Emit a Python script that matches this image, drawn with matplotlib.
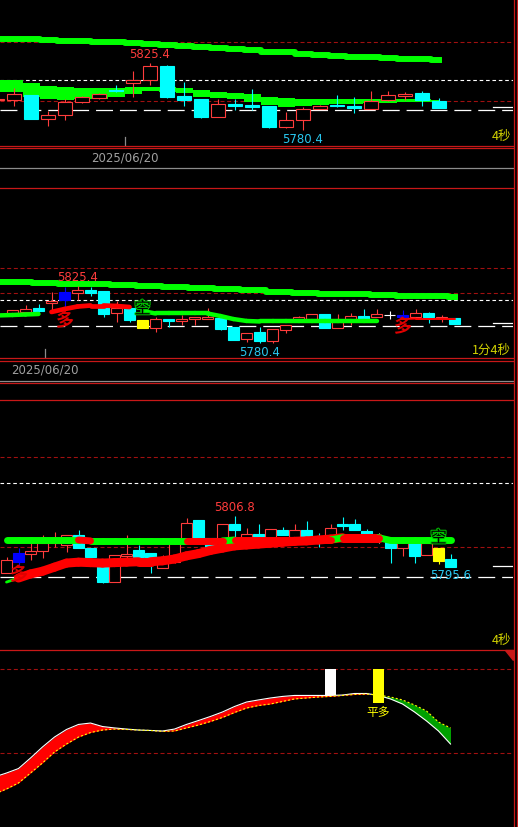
import numpy as np
import matplotlib
matplotlib.use("Agg")
import matplotlib.pyplot as plt
from matplotlib.lines import Line2D
from matplotlib.patches import Polygon
from matplotlib.collections import LineCollection
import matplotlib.patheffects as pe

plt.rcParams['lines.scale_dashes'] = False
CJK = ['Noto Sans CJK SC', 'DejaVu Sans']

# ---------------- data ----------------
date_label = "2025/06/20"
last_price = 5795.8

# panel 1 (4-second chart)
p1_open = [5800.6, 5800.6, 5803.9, 5787.8, 5790.5, 5799.2, 5801.9, 5807.3, 5812.0, 5814.0, 5823.4, 5803.2, 5801.2, 5789.1,
           5797.9, 5797.2, 5796.5, 5782.4, 5787.1, 5794.5, 5797.2, 5796.5, 5794.5, 5800.6, 5803.2, 5805.3, 5799.9]
p1_high = [5801.2, 5808.6, 5803.9, 5793.2, 5801.2, 5803.2, 5805.3, 5810.6, 5820.0, 5825.4, 5824.1, 5812.6, 5801.2, 5801.2,
           5801.2, 5807.9, 5796.5, 5792.5, 5795.8, 5797.2, 5803.9, 5802.6, 5806.6, 5806.6, 5805.9, 5806.6, 5801.9]
p1_low = [5800.6, 5796.5, 5787.8, 5783.1, 5787.1, 5798.6, 5801.2, 5806.0, 5802.6, 5810.6, 5801.9, 5796.5, 5788.5, 5789.1,
          5793.8, 5793.8, 5781.8, 5781.8, 5780.4, 5794.5, 5795.8, 5791.8, 5794.5, 5799.9, 5800.6, 5796.5, 5795.2]
p1_close = [5801.2, 5804.6, 5787.8, 5790.5, 5799.2, 5802.6, 5804.6, 5806.6, 5814.0, 5823.4, 5802.6, 5800.6, 5789.1, 5797.9,
            5796.5, 5795.8, 5782.4, 5787.1, 5794.5, 5796.5, 5796.5, 5795.2, 5799.9, 5803.9, 5804.6, 5800.6, 5795.2]
p1_ma_long = [5841.5, 5841.5, 5841.2, 5840.8, 5840.5, 5840.2, 5839.8, 5839.5, 5838.8, 5838.2, 5837.5, 5836.8, 5836.1, 5835.5,
              5834.8, 5834.1, 5833.1, 5832.5, 5831.4, 5830.8, 5830.1, 5829.4, 5829.1, 5828.8, 5828.4, 5828.1, 5827.4]
p1_band_top = [5814.0, 5814.0, 5812.0, 5809.9, 5809.3, 5808.6, 5808.6, 5808.6, 5809.3, 5809.3, 5809.3, 5808.6, 5807.3, 5805.9,
               5805.3, 5804.6, 5802.6, 5801.9, 5801.2, 5801.2, 5801.2, 5801.2, 5801.2, 5801.2, 5801.2, 5801.2, 5800.6]
p1_band_bot = [5805.9, 5805.9, 5802.6, 5801.2, 5800.6, 5801.2, 5801.2, 5802.6, 5804.6, 5806.6, 5805.9, 5805.3, 5802.6, 5801.9,
               5801.2, 5799.2, 5797.2, 5795.8, 5796.5, 5797.2, 5797.9, 5797.9, 5798.6, 5798.6, 5799.2, 5799.2, 5799.2]
p1_levels_red = [5839.5, 5799.9]
p1_level_fine = 5814.0
p1_level_long = 5793.8
p1_hi_idx, p1_lo_idx = 8, 17

# panel 2 (1 min 4 s chart)
p2_open = [5803.8, 5804.9, 5808.3, 5812.2, 5820.9, 5819.6, 5822.2, 5821.5, 5803.8, 5808.3, 5798.6, 5792.0, 5799.6, 5798.0,
           5799.1, 5799.6, 5799.9, 5793.3, 5783.3, 5789.1, 5782.0, 5790.7, 5798.6, 5799.6, 5803.3, 5792.5, 5799.1, 5802.0,
           5800.7, 5802.8, 5802.5, 5800.7, 5803.8, 5800.1, 5799.9]
p2_high = [5806.5, 5810.4, 5811.2, 5820.7, 5824.6, 5825.4, 5824.9, 5821.5, 5813.6, 5808.3, 5798.6, 5801.2, 5799.6, 5802.5,
           5801.2, 5808.3, 5799.9, 5793.3, 5788.1, 5793.3, 5791.2, 5794.6, 5802.0, 5803.3, 5803.3, 5803.3, 5803.8, 5807.2,
           5807.2, 5805.9, 5806.5, 5807.2, 5805.1, 5802.5, 5799.9]
p2_low = [5803.8, 5804.9, 5804.9, 5804.1, 5806.5, 5814.3, 5817.5, 5801.2, 5797.2, 5797.2, 5792.0, 5789.3, 5792.8, 5794.6,
          5794.6, 5799.1, 5790.7, 5782.8, 5781.5, 5780.4, 5780.6, 5788.5, 5798.6, 5799.6, 5792.5, 5792.5, 5794.6, 5799.3,
          5800.7, 5799.3, 5800.7, 5800.7, 5796.4, 5797.2, 5795.4]
p2_close = [5806.5, 5807.2, 5805.9, 5813.6, 5814.3, 5822.2, 5820.1, 5803.3, 5808.3, 5798.6, 5792.5, 5799.1, 5798.0, 5799.6,
            5801.2, 5801.2, 5791.5, 5782.8, 5788.1, 5782.0, 5791.2, 5794.6, 5800.9, 5803.3, 5792.5, 5797.2, 5802.0, 5799.3,
            5803.3, 5802.8, 5800.7, 5803.8, 5800.7, 5801.2, 5795.4]
p2_special_idx = [4, 10, 29, 30]
p2_special_col = ['#0000ff', '#ffff00', '#ffffff', '#0000ff']
p2_ma_long = [5828.3, 5828.3, 5828.3, 5827.8, 5827.8, 5827.3, 5827.3, 5826.8, 5826.8, 5826.3, 5826.3, 5825.6, 5825.6, 5824.8,
              5824.8, 5824.0, 5824.0, 5823.0, 5823.0, 5822.0, 5822.0, 5821.0, 5821.0, 5819.9, 5819.9, 5819.4, 5819.4, 5818.8,
              5818.8, 5818.3, 5818.3, 5817.7, 5817.7, 5817.2, 5817.2, 5816.7]
p2_ma_short = [5802.2, 5802.5, 5802.9, 5803.3, 5804.9, 5807.2, 5809.2, 5810.0, 5810.0, 5809.6, 5808.8, 5805.7, 5803.7, 5803.7,
               5803.7, 5803.7, 5803.7, 5801.7, 5799.3, 5797.8, 5797.4, 5797.4, 5797.4, 5797.4, 5797.4, 5797.4, 5797.4, 5797.4,
               5797.4, 5797.4, 5798.9, 5799.3, 5799.7, 5799.7, 5799.7, 5799.7]
p2_ma_short_seg = "ggg" + "n" + "rrrrrr" + "n" + "g" * 18 + "nn" + "RRRR"
p2_levels_red = [5839.5, 5819.8]
p2_level_fine = 5814.1
p2_level_long = 5793.8
p2_hi_idx, p2_lo_idx = 5, 19
p2_duo_idx, p2_duo_val = [4, 30], [5797.8, 5793.0]
p2_kong_idx, p2_kong_val = [10], [5807.2]

# panel 3 (4-second chart, zoomed)
p3_open = [5794.1, 5798.6, 5798.3, 5799.1, 5800.8, 5800.4, 5802.6, 5799.8, 5797.1, 5792.3, 5798.0, 5799.3, 5798.6, 5795.3,
           5796.6, 5801.7, 5805.9, 5801.9, 5801.7, 5805.0, 5801.9, 5802.8, 5801.9, 5803.7, 5802.2, 5803.7, 5801.9, 5801.9,
           5805.0, 5805.0, 5803.5, 5801.9, 5801.1, 5799.8, 5800.8, 5798.2, 5799.8, 5797.3]
p3_high = [5797.8, 5799.8, 5800.9, 5802.6, 5803.2, 5802.6, 5803.7, 5799.8, 5797.2, 5798.2, 5802.6, 5800.4, 5798.6, 5798.2,
           5801.9, 5806.3, 5805.9, 5801.9, 5805.0, 5806.8, 5804.1, 5805.0, 5803.9, 5804.4, 5805.0, 5805.7, 5803.0, 5805.0,
           5806.6, 5806.1, 5803.9, 5803.0, 5801.1, 5801.1, 5800.8, 5800.8, 5799.8, 5798.4]
p3_low = [5794.1, 5796.0, 5797.1, 5797.5, 5799.9, 5798.9, 5799.8, 5797.7, 5791.9, 5792.3, 5797.1, 5797.8, 5794.1, 5795.3,
          5796.4, 5801.7, 5801.7, 5799.7, 5801.7, 5801.9, 5801.9, 5801.9, 5801.9, 5802.6, 5802.2, 5801.9, 5799.9, 5801.9,
          5803.7, 5803.6, 5802.5, 5800.8, 5796.4, 5798.0, 5796.5, 5798.2, 5796.1, 5795.6]
p3_close = [5797.1, 5796.7, 5799.0, 5800.9, 5801.9, 5802.6, 5799.8, 5797.7, 5792.3, 5798.2, 5798.4, 5797.8, 5796.2, 5797.1,
            5800.8, 5805.3, 5801.7, 5799.7, 5805.0, 5803.6, 5802.8, 5801.9, 5803.9, 5802.6, 5803.7, 5801.9, 5801.1, 5804.1,
            5804.6, 5803.6, 5802.5, 5801.9, 5799.8, 5801.1, 5798.0, 5800.8, 5796.9, 5795.6]
p3_special_idx = [1, 31, 36]
p3_special_col = ['#0000ff', '#ffffff', '#ffff00']
p3_ma_up = [5801.5] * 7 + [5801.3] * 12 + [5801.5] * 9 + [5802.0] * 4 + [5801.4] * 6
p3_ma_up_seg = "gggggg" + "r" + "g" * 8 + "rrr" + "g" + "r" * 8 + "g" + "rrr" + "g" * 6
p3_ma_dn = [5792.2, 5793.1, 5794.0, 5794.6, 5795.5, 5796.4, 5796.6, 5796.5, 5796.4, 5796.5, 5796.6, 5796.7, 5796.7, 5796.9,
            5797.3, 5798.0, 5798.5, 5799.2, 5799.7, 5800.2, 5800.4, 5800.6, 5800.8, 5801.0, 5801.2, 5801.3, 5801.5, 5801.7,
            5802.0, 5802.0, 5802.0, 5802.0]
p3_ma_dn_seg = "G" + "r" * 30
p3_levels_red = [5819.8, 5800.0]
p3_level_fine = 5814.1
p3_level_long = 5793.3
p3_hi_idx, p3_lo_idx = 19, 37
p3_duo_idx, p3_duo_val = [1], [5793.8]
p3_kong_idx, p3_kong_val = [36], [5801.9]

# panel 4 (indicator band)
p4_fast = [2.9, 5.7, 8.9, 16.4, 24.3, 31.4, 36.8, 40.4, 41.4, 38.9, 37.9, 37.1, 36.4, 36.1, 35.7, 37.1, 40.4, 43.2, 46.1,
           49.3, 53.2, 56.4, 57.9, 59.3, 60.4, 61.1, 61.1, 61.1, 61.1, 61.4, 62.5, 62.5, 61.1, 58.6, 55.0, 49.3, 42.9, 35.7, 26.4]
p4_slow = [-9.3, -5.7, -1.4, 5.7, 12.9, 20.7, 26.4, 31.4, 34.6, 36.4, 37.1, 36.8, 36.4, 36.1, 35.4, 35.7, 37.9, 40.0, 42.5,
           45.4, 48.9, 52.1, 53.9, 55.0, 56.8, 58.6, 59.3, 60.0, 60.4, 61.1, 61.8, 62.1, 61.4, 60.0, 57.9, 54.3, 50.0, 42.1, 37.9]
p4_levels = [80, 20]
p4_bar_idx = [27, 31]
p4_bar_low = [61.4, 55.7]
p4_bar_col = ['#ffffff', '#ffff00']
p4_text = "平多"
p4_text_val = 48.6

# ---------------- styling ----------------
RED = '#ff3c3c'
CYAN = '#00ffff'
GREEN = '#00ff00'
BORDER = '#c81818'
DASHRED = '#a01010'
GREY = '#8c8c8c'
LABEL_CYAN = '#28c8f0'
YEL = '#d2d200'

W, H = 518, 827
PR = 513
fig = plt.figure(figsize=(W / 100, H / 100), dpi=100, facecolor='black')


def fx(px):
    return px / W


def fy(px):
    return 1 - px / H


def add_ax(top, bottom):
    ax = fig.add_axes([0, fy(bottom), fx(PR), (bottom - top) / H])
    ax.set_facecolor('black')
    for s in ax.spines.values():
        s.set_visible(False)
    ax.set_xticks([])
    ax.set_yticks([])
    return ax


def fig_hline(y, color, lw=0.9):
    fig.add_artist(Line2D([0, fx(PR)], [fy(y), fy(y)], color=color, lw=lw, transform=fig.transFigure))


def fig_vline(x, color, lw=0.9):
    fig.add_artist(Line2D([fx(x), fx(x)], [0, 1], color=color, lw=lw, transform=fig.transFigure))


def levels(ax, reds, fine, long_):
    for v in reds:
        ax.axhline(v, color=DASHRED, lw=0.8, dashes=(2.9, 1.9), zorder=1)
    ax.axhline(fine, color='white', lw=0.8, dashes=(2.6, 2.0), zorder=1)
    ax.axhline(long_, color='white', lw=0.9, dashes=(12.2, 5.0), zorder=1)
    ax.axhline(last_price, xmin=493 / PR, xmax=1, color='white', lw=0.9, zorder=2)


def candles(ax, x, o, h, l, c, width, sp_idx=(), sp_col=()):
    o, h, l, c = map(np.asarray, (o, h, l, c))
    up = c >= o
    col = [RED if u else CYAN for u in up]
    hollow = list(up)
    for i, cc in zip(sp_idx, sp_col):
        col[i] = cc
        hollow[i] = False
    ax.vlines(x, l, h, colors=col, lw=0.8, zorder=3)
    face = ['black' if hw else cc for hw, cc in zip(hollow, col)]
    ax.bar(x, np.abs(c - o), width, bottom=np.minimum(o, c), color=face, edgecolor=col,
           linewidth=0.8, zorder=4)


def seg_lines(ax, x, y, seg, cmap, wmap, z):
    pts = np.column_stack([x, y])
    for key in set(seg):
        if key == 'n':
            continue
        segs = [pts[i:i + 2] for i, s in enumerate(seg) if s == key]
        ax.add_collection(LineCollection(segs, colors=cmap[key], linewidths=wmap[key],
                                         capstyle='round', zorder=z))


def mark_hi_lo(ax, hi_x, hi_v, lo_x, lo_v):
    ax.annotate(f"{hi_v:.1f}", (hi_x, hi_v), xytext=(0, 1.5), textcoords='offset points',
                ha='center', va='bottom', color=RED, fontsize=8.5, zorder=6)
    ax.annotate(f"{lo_v:.1f}", (lo_x, lo_v), xytext=(0, -2), textcoords='offset points',
                ha='center', va='top', color=LABEL_CYAN, fontsize=8.5, zorder=6)


def signals(ax, duo_x, duo_v, kong_x, kong_v):
    for xx, vv in zip(duo_x, duo_v):
        ax.text(xx, vv, "多", color='#e00000', fontsize=13, ha='center', va='center', family=CJK,
                style='italic', fontweight='bold', zorder=7)
    for xx, vv in zip(kong_x, kong_v):
        ax.text(xx, vv, "空", color='black', fontsize=12, ha='center', va='center', family=CJK, zorder=7,
                path_effects=[pe.withStroke(linewidth=1.4, foreground='#00c800')])


# ---------------- panel 1 ----------------
ax1 = add_ax(0, 145.5)
x1 = np.arange(-1, len(p1_open) - 1)
ax1.set_xlim(-14 / 17, (PR - 14) / 17)
ax1.set_ylim(5769.99, 5867.71)
levels(ax1, p1_levels_red, p1_level_fine, p1_level_long)
ax1.plot(x1, p1_ma_long, color=GREEN, lw=4.3, drawstyle='steps-mid', zorder=2)
ax1.fill_between(x1, p1_band_bot, p1_band_top, step='mid', color=GREEN, lw=0, zorder=2)
candles(ax1, x1, p1_open, p1_high, p1_low, p1_close, 0.88)
mark_hi_lo(ax1, x1[p1_hi_idx + 1], p1_high[p1_hi_idx + 1], x1[p1_lo_idx + 1], p1_low[p1_lo_idx + 1])
ax1.axvline(6.5, ymin=0, ymax=9 / 145.5, color=GREY, lw=0.9)
ax1.annotate(date_label, (6.5, 0), xycoords=('data', 'axes fraction'), xytext=(0, -9),
             textcoords='offset points', ha='center', va='center', color='#a0a0a0', fontsize=8.5,
             annotation_clip=False)
ax1.text(511 / PR, 0.065, "4秒", transform=ax1.transAxes, ha='right', va='center', color=YEL,
         fontsize=9, family=CJK)

# ---------------- panel 2 ----------------
ax2 = add_ax(170.5, 358)
x2 = np.arange(len(p2_open))
xm2 = np.arange(-1, len(p2_ma_long) - 1)
ax2.set_xlim(-12.5 / 13, (PR - 12.5) / 13)
ax2.set_ylim(5768.56, 5916.59)
levels(ax2, p2_levels_red, p2_level_fine, p2_level_long)
ax2.plot(xm2, p2_ma_long, color=GREEN, lw=4.3, drawstyle='steps-mid', zorder=2)
candles(ax2, x2, p2_open, p2_high, p2_low, p2_close, 0.85, p2_special_idx, p2_special_col)
seg_lines(ax2, xm2, p2_ma_short, p2_ma_short_seg,
          {'g': GREEN, 'r': '#ff0000', 'R': '#ff0000'}, {'g': 3.2, 'r': 3.4, 'R': 1.4}, 5)
mark_hi_lo(ax2, p2_hi_idx, p2_high[p2_hi_idx], p2_lo_idx, p2_low[p2_lo_idx])
signals(ax2, p2_duo_idx, p2_duo_val, p2_kong_idx, p2_kong_val)
ax2.axvline(2.5, ymin=0, ymax=9 / 187.5, color=GREY, lw=0.9)
ax2.annotate(date_label, (2.5, 0), xycoords=('data', 'axes fraction'), xytext=(0, -9),
             textcoords='offset points', ha='center', va='center', color='#a0a0a0', fontsize=8.5,
             annotation_clip=False)
ax2.text(511 / PR, 0.043, "1分4秒", transform=ax2.transAxes, ha='right', va='center', color=YEL,
         fontsize=9, family=CJK)

# ---------------- panel 3 ----------------
ax3 = add_ax(383, 650)
x3 = np.arange(len(p3_open))
ax3.set_xlim(-6.5 / 12, (PR - 6.5) / 12)
ax3.set_ylim(5777.20, 5836.18)
levels(ax3, p3_levels_red, p3_level_fine, p3_level_long)
candles(ax3, x3, p3_open, p3_high, p3_low, p3_close, 0.88, p3_special_idx, p3_special_col)
seg_lines(ax3, np.arange(len(p3_ma_dn)), p3_ma_dn, p3_ma_dn_seg,
          {'G': GREEN, 'r': '#ff0000'}, {'G': 2.0, 'r': 6.5}, 5)
seg_lines(ax3, x3, p3_ma_up, p3_ma_up_seg,
          {'g': GREEN, 'r': '#ff0000'}, {'g': 5.0, 'r': 5.0}, 6)
mark_hi_lo(ax3, p3_hi_idx, p3_high[p3_hi_idx], p3_lo_idx, p3_low[p3_lo_idx])
signals(ax3, p3_duo_idx, p3_duo_val, p3_kong_idx, p3_kong_val)
ax3.text(511 / PR, 0.034, "4秒", transform=ax3.transAxes, ha='right', va='center', color=YEL,
         fontsize=9, family=CJK)

# ---------------- panel 4 ----------------
ax4 = add_ax(650, 827)
x4 = np.arange(-1, len(p4_fast) - 1)
ax4.set_xlim(-6.5 / 12, (PR - 6.5) / 12)
ax4.set_ylim(-32.86, 93.57)
for v in p4_levels:
    ax4.axhline(v, color=DASHRED, lw=0.8, dashes=(2.9, 1.9), zorder=1)
fast = np.array(p4_fast)
slow = np.array(p4_slow)
ax4.fill_between(x4, slow, fast, where=fast >= slow, interpolate=True, color='#ff0000', lw=0, zorder=2)
ax4.fill_between(x4, slow, fast, where=fast < slow, interpolate=True, color='#00a000', lw=0, zorder=2)
ax4.plot(x4, fast, color='white', lw=0.8, zorder=3)
ax4.plot(x4, slow, color='#ffff00', lw=0.8, dashes=(1.5, 1.5), zorder=3)
ax4.bar(p4_bar_idx, [p4_levels[0] - b for b in p4_bar_low], 0.9, bottom=p4_bar_low, color=p4_bar_col, zorder=4)
ax4.text(p4_bar_idx[1], p4_text_val, p4_text, color='#ffff00', fontsize=8.5, ha='center', va='center',
         family=CJK, zorder=5)

# ---------------- frame lines ----------------
for y in (145.5, 148, 188, 358, 360.5, 383, 400, 650):
    fig_hline(y, BORDER)
for y in (168, 381):
    fig_hline(y, GREY)
fig_vline(513.5, BORDER)
fig_vline(517, BORDER)
fig.add_artist(Polygon([[fx(505), fy(650)], [fx(513), fy(650)], [fx(513), fy(660)]], closed=True,
                       color=BORDER, transform=fig.transFigure))

fig.savefig("out.png", dpi=100, facecolor='black')
